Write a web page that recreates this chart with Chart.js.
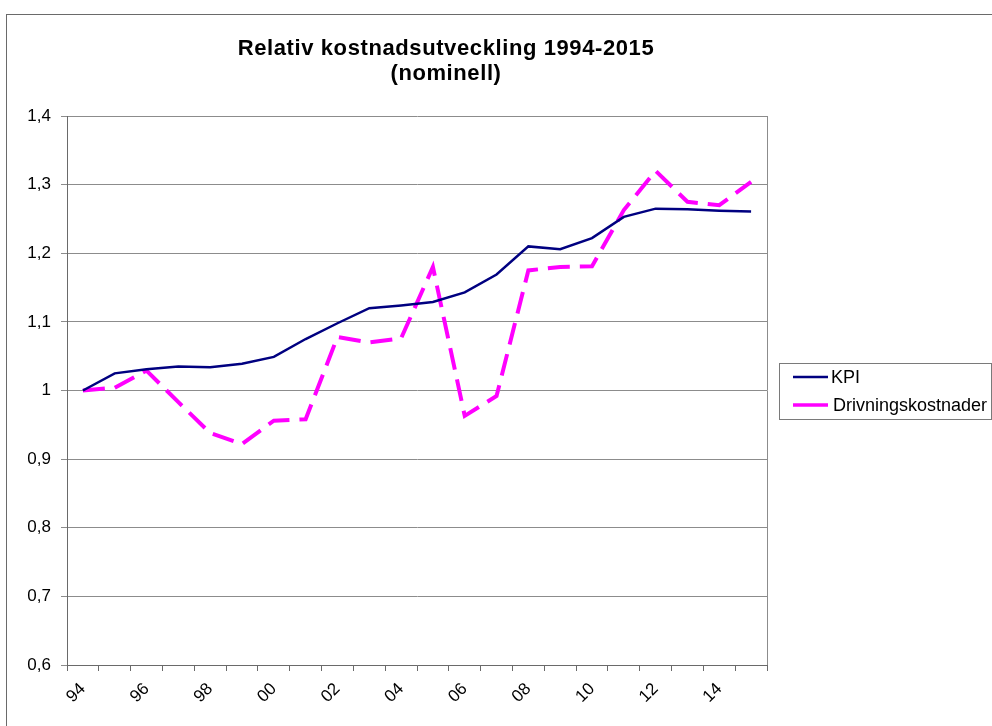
<!DOCTYPE html>
<html>
<head>
<meta charset="utf-8">
<script src="https://cdn.jsdelivr.net/npm/chart.js@4"></script>
<style>
  html, body { margin: 0; padding: 0; background: #fff; }
  #wrap { position: relative; width: 992px; height: 726px; overflow: hidden; }
  #frame { position: absolute; left: 6px; top: 14px; width: 1000px; height: 800px; border: 1px solid #6a6a6a; box-sizing: border-box; }
  canvas { position: absolute; left: 0; top: 0; }
</style>
</head>
<body>
<div id="wrap">
  <div id="frame"></div>
  <canvas id="c" width="992" height="726"></canvas>
</div>
<script>
const years = [1994,1995,1996,1997,1998,1999,2000,2001,2002,2003,2004,2005,2006,2007,2008,2009,2010,2011,2012,2013,2014,2015];
const kpi = [1.000,1.025,1.031,1.035,1.034,1.039,1.049,1.075,1.098,1.120,1.124,1.129,1.143,1.169,1.210,1.206,1.222,1.253,1.265,1.264,1.262,1.261];
const drivning = [1.000,1.004,1.029,0.983,0.938,0.922,0.956,0.958,1.078,1.070,1.076,1.180,0.963,0.992,1.175,1.180,1.181,1.263,1.320,1.275,1.270,1.304];
const titleLines = ['Relativ kostnadsutveckling 1994-2015', '(nominell)'];
const yMin = 0.6, yMax = 1.4, yStep = 0.1;

const FONT = '"Liberation Sans", Arial, sans-serif';

const decorPlugin = {
  id: 'decor',
  beforeDatasetsDraw(chart) {
    const { ctx, chartArea: a } = chart;
    ctx.save();
    ctx.strokeStyle = '#8c8c8c';
    ctx.lineWidth = 1;
    ctx.beginPath();
    ctx.moveTo(Math.round(a.right) + 0.5, a.top);
    ctx.lineTo(Math.round(a.right) + 0.5, a.bottom);
    ctx.stroke();
    ctx.restore();
  },
  afterDraw(chart) {
    const { ctx, chartArea: a } = chart;
    ctx.save();
    // title
    ctx.fillStyle = '#000';
    ctx.textAlign = 'center';
    ctx.textBaseline = 'middle';
    ctx.font = 'bold 22px ' + FONT;
    try { ctx.letterSpacing = '0.6px'; } catch (e) {}
    ctx.fillText(titleLines[0], 446, 49);
    ctx.fillText(titleLines[1], 446, 74);
    try { ctx.letterSpacing = '0px'; } catch (e) {}
    // legend
    const lx = a.right + 12, lw = 212, lh = 56;
    const ly = Math.round((a.top + a.bottom) / 2 - lh / 2);
    ctx.strokeStyle = '#7a7a7a';
    ctx.lineWidth = 1;
    ctx.strokeRect(lx + 0.5, ly + 0.5, lw, lh);
    ctx.textAlign = 'left';
    ctx.font = '18px ' + FONT;
    chart.data.datasets.forEach((ds, i) => {
      const y = ly + 14 + i * 28;
      ctx.strokeStyle = ds.borderColor;
      ctx.lineWidth = ds.borderWidth > 3 ? 3.5 : 2.5;
      ctx.setLineDash([]);
      ctx.beginPath();
      ctx.moveTo(lx + 14, y);
      ctx.lineTo(lx + 49, y);
      ctx.stroke();
      ctx.fillStyle = '#000';
      ctx.fillText(ds.label, lx + 52 + (i ? 2 : 0), y + 1);
    });
    ctx.restore();
  }
};

new Chart(document.getElementById('c'), {
  type: 'line',
  data: {
    labels: years.map(y => String(y).slice(2)),
    datasets: [
      { label: 'KPI', data: kpi, borderColor: '#000080', borderWidth: 2.5, pointRadius: 0, tension: 0, fill: false },
      { label: 'Drivningskostnader', data: drivning, borderColor: '#FF00FF', borderWidth: 4, borderDash: [22, 10], pointRadius: 0, tension: 0, fill: false }
    ]
  },
  options: {
    responsive: false,
    animation: false,
    layout: { padding: { left: 0, right: 225, top: 116, bottom: 0 } },
    plugins: { legend: { display: false }, title: { display: false }, tooltip: { enabled: false } },
    scales: {
      x: {
        type: 'category',
        offset: true,
        grid: { offset: true, drawOnChartArea: false, drawTicks: true, tickLength: 6, color: '#6a6a6a' },
        border: { color: '#6a6a6a', width: 1 },
        ticks: {
          autoSkip: false, maxRotation: 45, minRotation: 45,
          color: '#000', font: { family: FONT, size: 17 }, padding: 8,
          callback: function(v, i) { return i % 2 === 0 ? this.getLabelForValue(v) : ''; }
        },
        afterFit(s) { s.height = 61; }
      },
      y: {
        min: yMin, max: yMax,
        grid: { color: '#8c8c8c', tickLength: 6, drawTicks: true },
        border: { color: '#6a6a6a', width: 1 },
        ticks: {
          stepSize: yStep, color: '#000', font: { family: FONT, size: 17 }, padding: 10,
          callback: v => String(Math.round(v * 10) / 10).replace('.', ',')
        },
        afterFit(s) { s.width = 67; }
      }
    }
  },
  plugins: [decorPlugin]
});
</script>
</body>
</html>
